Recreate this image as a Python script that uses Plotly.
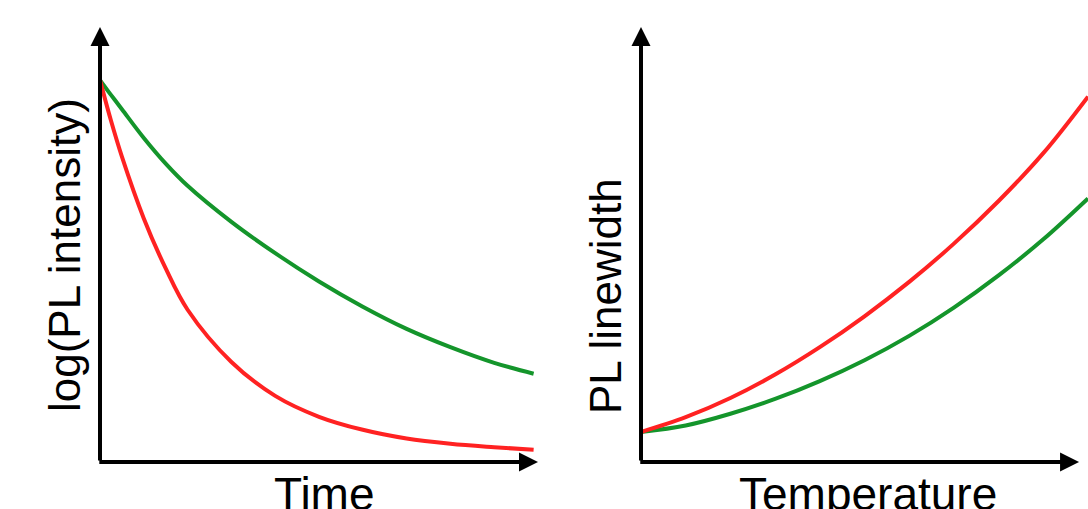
import plotly.graph_objects as go

W, H = 1088, 509

# ---- data (arbitrary schematic units) ----
time = [0, 0.25, 0.5, 1, 1.5, 2, 3, 4, 5, 6, 7, 8, 9, 9.9]
pl_int_green = [8.78, 8.44, 8.11, 7.45, 6.86, 6.35, 5.52, 4.80, 4.15, 3.57, 3.06, 2.64, 2.28, 2.03]
pl_int_red = [8.78, 7.85, 7.02, 5.60, 4.45, 3.50, 2.30, 1.52, 1.04, 0.74, 0.54, 0.42, 0.34, 0.28]

temperature = [0, 1, 2, 3, 4, 5, 6, 7, 8, 9, 10]
lw_red = [0.69, 1.03, 1.47, 2.01, 2.64, 3.35, 4.14, 5.02, 6.00, 7.10, 8.40]
lw_green = [0.69, 0.84, 1.11, 1.45, 1.86, 2.34, 2.90, 3.55, 4.29, 5.12, 6.06]

left_title = "log(PL intensity)"
left_xtitle = "Time"
right_title = "PL linewidth"
right_xtitle = "Temperature"

RED = "#FF2222"
GREEN = "#14952B"
FONT = "Liberation Sans, Arial, sans-serif"

fig = go.Figure()

fig.add_trace(go.Scatter(x=time, y=pl_int_green, mode="lines", line=dict(color=GREEN, width=4, shape="spline"),
                         xaxis="x", yaxis="y", showlegend=False, hoverinfo="skip"))
fig.add_trace(go.Scatter(x=time, y=pl_int_red, mode="lines", line=dict(color=RED, width=4, shape="spline"),
                         xaxis="x", yaxis="y", showlegend=False, hoverinfo="skip"))
fig.add_trace(go.Scatter(x=temperature, y=lw_green, mode="lines", line=dict(color=GREEN, width=4, shape="spline"),
                         xaxis="x2", yaxis="y2", showlegend=False, hoverinfo="skip"))
fig.add_trace(go.Scatter(x=temperature, y=lw_red, mode="lines", line=dict(color=RED, width=4, shape="spline"),
                         xaxis="x2", yaxis="y2", showlegend=False, hoverinfo="skip"))

ydom = [(H - 462) / H, (H - 27) / H]
axis_common = dict(visible=False, fixedrange=True, autorange=False, showgrid=False, zeroline=False)
fig.update_layout(
    width=W, height=H,
    margin=dict(l=0, r=0, t=0, b=0),
    paper_bgcolor="white", plot_bgcolor="white",
    xaxis=dict(domain=[100 / W, 538 / W], range=[0, 10], **axis_common),
    yaxis=dict(domain=ydom, range=[0, 10], **axis_common),
    xaxis2=dict(domain=[641 / W, 1.0], range=[0, 10], anchor="y2", **axis_common),
    yaxis2=dict(domain=ydom, range=[0, 10], anchor="x2", **axis_common),
)

def axis_arrow(xr, yr, x0, y0, x1, y1):
    return dict(x=x1, y=y1, ax=x0, ay=y0, xref=xr, yref=yr, axref=xr, ayref=yr,
                text="", showarrow=True, arrowhead=2, arrowwidth=4, arrowsize=0.95,
                arrowcolor="black", standoff=0, startstandoff=0)

annotations = [
    axis_arrow("x", "y", -0.05, 0, 10, 0),
    axis_arrow("x", "y", 0, 0, 0, 10),
    axis_arrow("x2", "y2", -0.05, 0, 9.8, 0),
    axis_arrow("x2", "y2", 0, 0, 0, 10),
    dict(text=left_title, x=64 / W, y=(H - 255) / H, xref="paper", yref="paper", showarrow=False,
         textangle=-90, xanchor="center", yanchor="middle", font=dict(family=FONT, size=44, color="black")),
    dict(text=right_title, x=605 / W, y=(H - 296) / H, xref="paper", yref="paper", showarrow=False,
         textangle=-90, xanchor="center", yanchor="middle", font=dict(family=FONT, size=44, color="black")),
    dict(text=left_xtitle, x=324 / W, y=(H - 493.5) / H, xref="paper", yref="paper", showarrow=False,
         xanchor="center", yanchor="middle", font=dict(family=FONT, size=46, color="black")),
    dict(text=right_xtitle, x=868 / W, y=(H - 493.5) / H, xref="paper", yref="paper", showarrow=False,
         xanchor="center", yanchor="middle", font=dict(family=FONT, size=46, color="black")),
]
fig.update_layout(annotations=annotations)

fig.write_html("out.html", config={"displayModeBar": False})
